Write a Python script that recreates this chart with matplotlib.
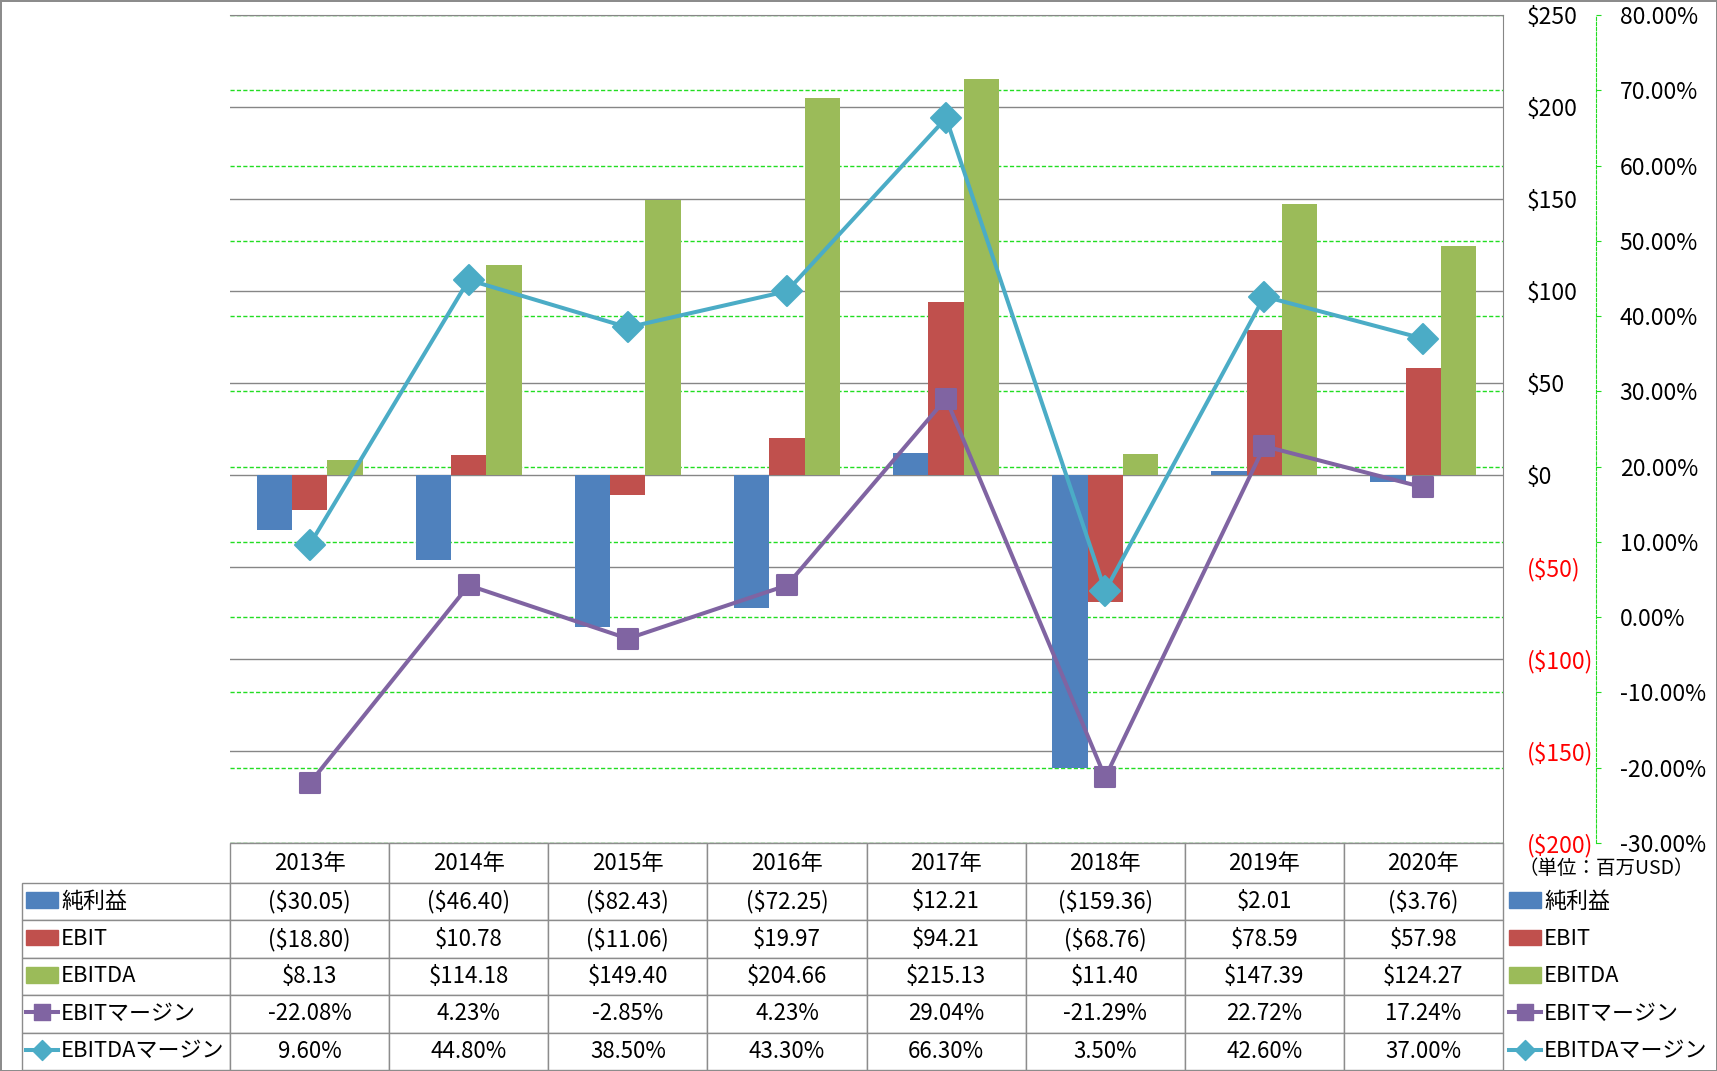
import numpy as np
import matplotlib.pyplot as plt
from matplotlib.lines import Line2D
from matplotlib.patches import Patch
from matplotlib.markers import MarkerStyle

plt.rcParams['font.family'] = ['Noto Sans CJK JP', 'DejaVu Sans']
plt.rcParams['text.parse_math'] = False

years = ['2013年', '2014年', '2015年', '2016年', '2017年', '2018年', '2019年', '2020年']
net_income = [-30.05, -46.40, -82.43, -72.25, 12.21, -159.36, 2.01, -3.76]
ebit = [-18.80, 10.78, -11.06, 19.97, 94.21, -68.76, 78.59, 57.98]
ebitda = [8.13, 114.18, 149.40, 204.66, 215.13, 11.40, 147.39, 124.27]
ebit_margin = [-22.08, 4.23, -2.85, 4.23, 29.04, -21.29, 22.72, 17.24]
ebitda_margin = [9.60, 44.80, 38.50, 43.30, 66.30, 3.50, 42.60, 37.00]
series_names = ['純利益', 'EBIT', 'EBITDA', 'EBITマージン', 'EBITDAマージン']
usd_ticks = np.arange(-200, 251, 50)
pct_ticks = np.arange(-30, 81, 10)

c_blue, c_red, c_green = '#4F81BD', '#C0504D', '#9BBB59'
c_purple, c_cyan = '#8064A2', '#4BACC6'
grey = '#868686'
lime = '#22DD22'

W, H = 1717, 1071
fig = plt.figure(figsize=(W / 100, H / 100), dpi=100)
fig.patch.set_edgecolor('#8c8c8c')
fig.patch.set_linewidth(2)


def fx(px):
    return px / W


def fy(py):
    return 1 - py / H


rect = [fx(230), fy(843), fx(1503) - fx(230), fy(15) - fy(843)]

# background axes: green dashed grid for the % scale
ax_g = fig.add_axes(rect)
ax_g.set_ylim(-30, 80)
ax_g.set_yticks(pct_ticks)
ax_g.grid(axis='y', color=lime, linestyle=(0, (3, 1.6)), linewidth=1)
ax_g.tick_params(length=0, labelleft=False, labelbottom=False)
for s in ax_g.spines.values():
    s.set_visible(False)

# bars on the $ scale
ax = ax_g.twinx()
ax.set_zorder(1)
ax.patch.set_visible(False)
x = np.arange(len(years))
w = 0.222
ax.bar(x - w, net_income, w, color=c_blue, zorder=2)
ax.bar(x, ebit, w, color=c_red, zorder=2)
ax.bar(x + w, ebitda, w, color=c_green, zorder=2)
ax.set_ylim(-200, 250)
ax.set_yticks(usd_ticks)
ax.set_yticklabels([f'(${-t})' if t < 0 else f'${t}' for t in usd_ticks])
for lab, t in zip(ax.get_yticklabels(), usd_ticks):
    lab.set_color('red' if t < 0 else 'black')
ax.yaxis.tick_right()
ax.tick_params(axis='y', length=0, pad=17, labelsize=16.5)
ax.grid(axis='y', color=grey, linewidth=1, zorder=0)
ax.set_axisbelow(True)
ax.spines['left'].set_visible(False)
ax.spines['bottom'].set_visible(False)
ax.spines['top'].set_color(grey)
ax.spines['right'].set_color(grey)

# lines on the % scale
ax_p = ax_g.twinx()
ax_p.set_zorder(2)
ax_p.patch.set_visible(False)
sq = MarkerStyle('s', joinstyle='round')
dm = MarkerStyle('D', joinstyle='round')
ax_p.plot(x, ebit_margin, color=c_purple, lw=2.9, marker=sq, ms=14,
          mec=c_purple, mew=1.5, solid_joinstyle='round')
ax_p.plot(x, ebitda_margin, color=c_cyan, lw=2.9, marker=dm, ms=15,
          mec=c_cyan, mew=1.5, solid_joinstyle='round')
ax_p.set_ylim(-30, 80)
ax_p.set_yticks(pct_ticks)
ax_p.set_yticklabels([f'{t:.2f}%' for t in pct_ticks])
for lab, t in zip(ax_p.get_yticklabels(), pct_ticks):
    lab.set_color('red' if t < 0 else 'black')
ax_p.yaxis.tick_right()
ax_p.tick_params(axis='y', direction='out', length=3.6, color=lime, pad=13.5, labelsize=16.5)
for k in ('left', 'top', 'bottom'):
    ax_p.spines[k].set_visible(False)
ax_p.spines['right'].set_position(('axes', 1 + (1596 - 1503) / 1273))
ax_p.spines['right'].set_color(lime)
ax_p.spines['right'].set_linestyle((0, (3, 1.6)))
ax_p.set_xlim(-0.5, len(years) - 0.5)
ax_g.set_xticks([])

fig.text(fx(1518), fy(868), '（単位：百万USD）', ha='left', va='center', fontsize=14)

# data table
ax_t = fig.add_axes([fx(22), fy(1070), fx(1503) - fx(22), fy(843) - fy(1070)])
ax_t.axis('off')


def usd(v):
    return f'(${-v:.2f})' if v < 0 else f'${v:.2f}'


cell_text = [
    [''] + [usd(v) for v in net_income],
    [''] + [usd(v) for v in ebit],
    [''] + [usd(v) for v in ebitda],
    [''] + [f'{v:.2f}%' for v in ebit_margin],
    [''] + [f'{v:.2f}%' for v in ebitda_margin],
]
tab = ax_t.table(cellText=cell_text, colLabels=[''] + years,
                 colWidths=[208] + [159.125] * len(years),
                 cellLoc='center', bbox=[0, 0, 1, 1])
tab.auto_set_font_size(False)
tab.set_fontsize(16)
for (r, c), cell in tab.get_celld().items():
    cell.set_height(40 if r == 0 else 37.4)
    cell.set_edgecolor('#8c8c8c')
    cell.set_linewidth(1)
tab[0, 0].visible_edges = ''

# legend keys (inside the table row labels and at the right)
handles = [
    Patch(color=c_blue), Patch(color=c_red), Patch(color=c_green),
    Line2D([], [], color=c_purple, lw=2.9, marker=sq, ms=12, mec=c_purple),
    Line2D([], [], color=c_cyan, lw=2.9, marker=dm, ms=10, mec=c_cyan),
]
for x_px in (26, 1509):
    for i, (h, name) in enumerate(zip(handles, series_names)):
        yc = 883 + 37.4 * (i + 0.5)
        fig.legend([h], [name], loc='center left',
                   bbox_to_anchor=(fx(x_px), fy(yc)), frameon=False,
                   borderpad=0, borderaxespad=0, handlelength=1.45,
                   handletextpad=0.15, fontsize=15.8)

fig.savefig('out.png', dpi=100)
